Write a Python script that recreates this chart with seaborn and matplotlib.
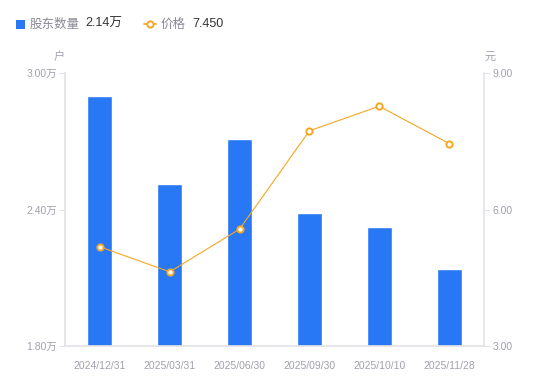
import matplotlib
matplotlib.use("Agg")
import matplotlib.pyplot as plt
import seaborn as sns
import pandas as pd
from matplotlib.lines import Line2D
from matplotlib.patches import Rectangle

categories = ["2024/12/31", "2025/03/31", "2025/06/30", "2025/09/30", "2025/10/10", "2025/11/28"]
holders = [2.90, 2.51, 2.71, 2.385, 2.325, 2.14]   # 万户
price = [5.18, 4.63, 5.57, 7.73, 8.27, 7.45]        # 元
left_ticks = [1.80, 2.40, 3.00]
right_ticks = [3.00, 6.00, 9.00]

sns.set_theme(style="white")
plt.rcParams['font.family'] = ['Liberation Sans', 'Noto Sans CJK SC', 'DejaVu Sans']
CJK = ['Noto Sans CJK SC', 'DejaVu Sans']

BLUE = "#2878f5"
ORANGE = "#f5a623"
GRAY = "#a0a0ac"
AXC = "#e3e3e8"

fig = plt.figure(figsize=(5.5, 3.81), dpi=100)
ax = fig.add_axes([65/550, 35/381, 419/550, 273/381])
df = pd.DataFrame({"cat": categories, "holders": holders, "price": price, "idx": range(len(categories))})

sns.barplot(data=df, x="cat", y="holders", color=BLUE, width=0.36, saturation=1, ax=ax)
ax.set_ylim(1.80, 3.00)
ax.set_yticks(left_ticks)
ax.set_yticklabels([f"{v:.2f}万" for v in left_ticks])
ax.set_xlabel("")
ax.set_ylabel("")

ax2 = ax.twinx()
sns.lineplot(data=df, x="idx", y="price", color=ORANGE, linewidth=0.8, marker="o",
             markersize=4.5, markerfacecolor="white", markeredgecolor=ORANGE, markeredgewidth=1.4, ax=ax2)
ax2.set_ylim(3.00, 9.00)
ax2.set_yticks(right_ticks)
ax2.set_yticklabels([f"{v:.2f}" for v in right_ticks])
ax2.set_ylabel("")
ax.set_xlim(-0.5, len(categories) - 0.5)

for a in (ax, ax2):
    for s in a.spines.values():
        s.set_visible(False)
ax.spines["left"].set_visible(True)
ax.spines["left"].set_color(AXC)
ax.spines["bottom"].set_visible(True)
ax.spines["bottom"].set_color(AXC)
ax2.spines["right"].set_visible(True)
ax2.spines["right"].set_color(AXC)

ax.tick_params(axis="y", left=True, length=4, width=0.8, color=AXC, labelsize=7.5, labelcolor=GRAY, pad=2)
ax.tick_params(axis="x", bottom=False, labelsize=7.5, labelcolor=GRAY, pad=5)
ax2.tick_params(axis="y", right=True, length=4, width=0.8, color=AXC, labelsize=7.5, labelcolor=GRAY, pad=2)

# unit labels
fig.text(59/550, 1 - 57/381, "户", ha="center", va="center", fontsize=8, color=GRAY, family=CJK)
fig.text(490/550, 1 - 57/381, "元", ha="center", va="center", fontsize=8, color=GRAY, family=CJK)

# legend
fig.patches.append(Rectangle((16/550, 1 - 29/381), 9/550, 9/381, transform=fig.transFigure,
                             facecolor=BLUE, edgecolor="none"))
fig.text(30/550, 1 - 24/381, "股东数量", ha="left", va="center", fontsize=9, color="#8a8a96", family=CJK)
fig.text(85/550, 1 - 24/381, "2.14万", ha="left", va="center", fontsize=9, color="#333333")
fig.lines.append(Line2D([144/550, 156/550], [1 - 24/381, 1 - 24/381], transform=fig.transFigure,
                        color=ORANGE, linewidth=1.2))
fig.lines.append(Line2D([150/550], [1 - 24/381], transform=fig.transFigure, color=ORANGE,
                        marker="o", markersize=4.5, markerfacecolor="white", markeredgecolor=ORANGE,
                        markeredgewidth=1.4, linestyle="none"))
fig.text(161/550, 1 - 24/381, "价格", ha="left", va="center", fontsize=9, color="#8a8a96", family=CJK)
fig.text(192/550, 1 - 24/381, "7.450", ha="left", va="center", fontsize=9, color="#333333")

fig.savefig("out.png", dpi=100)
